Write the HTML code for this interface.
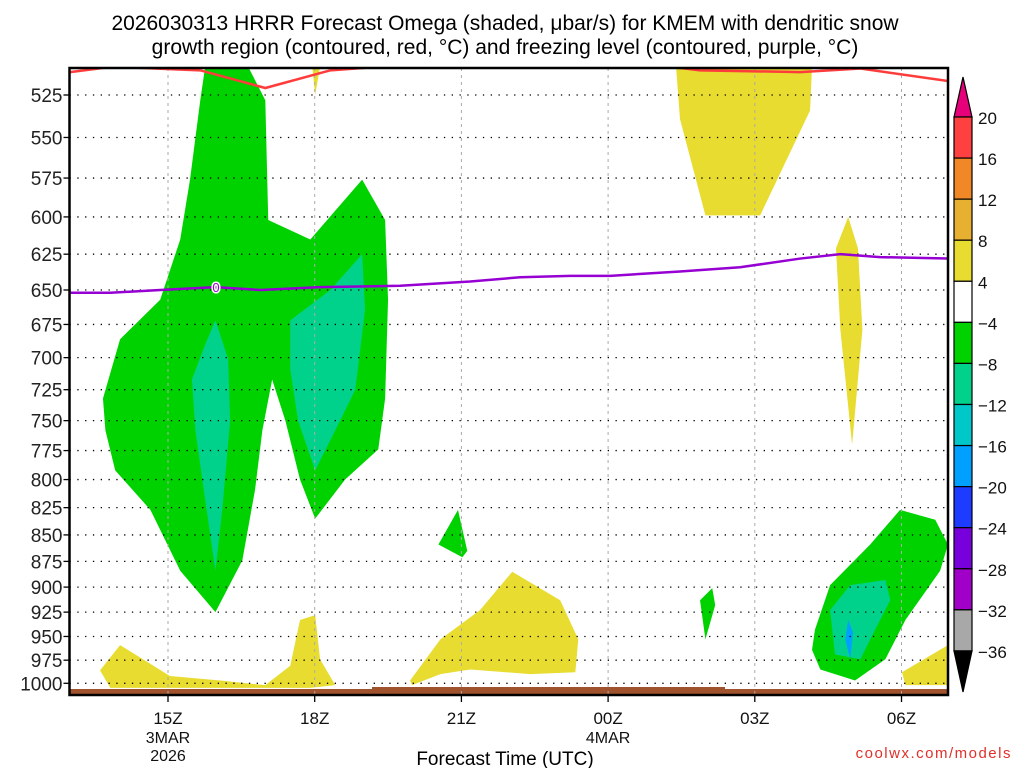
<!DOCTYPE html>
<html><head><meta charset="utf-8"><style>
body{margin:0;background:#fff;width:1024px;height:768px;overflow:hidden}
svg{display:block;font-family:"Liberation Sans",sans-serif}
</style></head><body>
<svg id="chart" width="1024" height="768" viewBox="0 0 1024 768">
<text x="505" y="30" font-size="21" text-anchor="middle">2026030313 HRRR Forecast Omega (shaded, μbar/s) for KMEM with dendritic snow</text>
<text x="505" y="54" font-size="21" text-anchor="middle">growth region (contoured, red, °C) and freezing level (contoured, purple, °C)</text>
<g id="plot"></g>
<g id="cbar"></g>
<text x="505" y="765" font-size="19" text-anchor="middle">Forecast Time (UTC)</text>
<text x="1012" y="758" font-size="15" fill="#e0302a" text-anchor="end" letter-spacing="1.5">coolwx.com/models</text>
</svg>
<script>
const NS="http://www.w3.org/2000/svg";
const pressureTicks=[525,550,575,600,625,650,675,700,725,750,775,800,825,850,875,900,925,950,975,1000];
const timeTicks=[2,5,8,11,14,17];
const timeLabels=["15Z","18Z","21Z","00Z","03Z","06Z"];
const cbarLevels=[20,16,12,8,4,-4,-8,-12,-16,-20,-24,-28,-32,-36];
const cbarColors=["#ff4040","#f08828","#e8b030","#e8dc30","#ffffff","#00d200","#00d28c","#00c8c8","#00a0ff","#1e3cff","#7800dc","#a000c8","#a8a8a8"];
const yellowAreas=[
 [[12.39,509],[15.17,509],[15.13,534],[14.11,599],[12.99,599],[12.47,539]],
 [[15.66,621],[15.91,600],[16.11,621],[16.2,679],[15.99,770],[15.75,679]],
 [[0.61,986],[1.02,959],[2.04,992],[3.07,997],[3.99,1002],[4.5,981],[4.7,933],[5.01,928],[5.11,974],[5.42,1002],[4.91,1005],[0.82,1005]],
 [[4.95,509],[5.11,509],[5.01,525]],
 [[6.95,997],[7.57,953],[8.38,923],[9.04,885],[10.02,913],[10.39,953],[10.33,988],[9.41,990],[8.18,985],[7.57,990],[6.99,1002]],
 [[17.01,988],[17.95,959],[17.95,1002],[17.08,1002]]
];
const greenAreas=[
 [[2.76,509],[3.64,509],[3.99,528],[4.05,602],[4.91,615],[5.97,576],[6.44,602],[6.5,657],[6.44,732],[6.3,774],[5.62,800],[5.01,835],[4.7,800],[4.4,750],[4.13,717],[3.93,758],[3.78,809],[3.52,874],[2.97,925],[2.25,884],[1.64,827],[0.92,792],[0.72,758],[0.67,732],[1.02,686],[1.84,657],[2.25,615],[2.45,576],[2.66,528]],
 [[7.53,859],[7.93,827],[8.12,865],[8.02,871]],
 [[12.88,913],[13.13,901],[13.19,918],[12.99,953]],
 [[15.23,943],[15.54,898],[16.36,859],[16.97,827],[17.69,836],[17.95,859],[17.79,884],[17.08,933],[16.67,974],[16.05,997],[15.34,985],[15.17,964]]
];
const tealAreas=[
 [[2.76,690],[2.97,672],[3.23,701],[3.27,750],[3.11,827],[2.97,884],[2.76,818],[2.56,758],[2.49,717]],
 [[4.5,672],[5.32,650],[5.97,625],[6.03,664],[5.83,725],[5.52,750],[5.01,792],[4.66,750],[4.5,709]],
 [[15.54,923],[15.95,898],[16.67,893],[16.77,913],[16.36,953],[16.16,974],[15.64,969]]
];
const blueAreas=[[[15.91,933],[16.01,946],[15.95,974],[15.85,953]]];
const dgzRed=[
 [[0,512],[0.86,509],[2.66,511],[3.99,521],[5.32,511],[6.34,509]],
 [[12.27,509],[12.88,511],[14.93,512],[16.16,510],[17.95,517]]
];
const freezeHours=[0,0.82,1.84,2.97,3.89,5.11,6.75,8.18,9.2,10.22,11.04,12.47,13.7,14.93,15.75,16.56,17.95];
const freezeP=[652,652,650,648,650,648,647,644,641,640,640,637,634,628,625,627,628];

const X0=69.5,X1=948,Y0=68,Y1=695;
const xs=h=>70.2+h*48.9;
const ys=p=>95+913*Math.log(p/525);
const plot=document.getElementById('plot');
function mk(tag,attrs,parent){const e=document.createElementNS(NS,tag);for(const k in attrs)e.setAttribute(k,attrs[k]);(parent||plot).appendChild(e);return e;}
const defs=mk('defs',{});
const cp=mk('clipPath',{id:'clip'},defs);
mk('rect',{x:X0,y:Y0,width:X1-X0,height:Y1-Y0},cp);
const g=mk('g',{'clip-path':'url(#clip)'});
function areas(list,color,name){list.forEach(poly=>{
 const e=mk('polygon',{points:poly.map(q=>xs(q[0])+','+ys(q[1])).join(' '),fill:color},g);
 
 
});}
areas(yellowAreas,'#e8dc30','omega-4-to-8-area');
areas(greenAreas,'#00d200','omega-minus4-to-minus8-area');
areas(tealAreas,'#00d28c','omega-minus8-to-minus12-area');
areas(blueAreas,'#00a0ff','omega-minus12-to-minus20-area');
const gr1=mk('rect',{x:X0,y:689,width:X1-X0,height:6,fill:'#a0522d'},g);


mk('rect',{x:372,y:687,width:353,height:3,fill:'#a0522d'},g);
timeTicks.forEach(t=>{mk('line',{x1:xs(t),x2:xs(t),y1:Y0,y2:Y1,stroke:'#aaa','stroke-width':1,'stroke-dasharray':'3,4'},g);});
pressureTicks.forEach(p=>{mk('line',{x1:X0,x2:X1,y1:ys(p),y2:ys(p),stroke:'#000','stroke-width':1.3,'stroke-dasharray':'1.3,6.5'},g);});
dgzRed.forEach(l=>{const e=mk('polyline',{points:l.map(q=>xs(q[0])+','+ys(q[1])).join(' '),fill:'none',stroke:'#ff3c3c','stroke-width':2.5},g);
 
 });
const fl=mk('polyline',{points:freezeHours.map((h,i)=>xs(h)+','+ys(freezeP[i])).join(' '),fill:'none',stroke:'#9600d2','stroke-width':2.5},g);


const fz=mk('text',{x:216,y:ys(648)+5,'font-size':13,fill:'#9600d2','text-anchor':'middle',stroke:'#fff','stroke-width':3,'paint-order':'stroke'},g);fz.textContent='0';


mk('rect',{x:X0,y:Y0,width:X1-X0,height:Y1-Y0,fill:'none',stroke:'#000','stroke-width':2.5});
pressureTicks.forEach(p=>{
 mk('line',{x1:X0-6,x2:X0,y1:ys(p),y2:ys(p),stroke:'#000','stroke-width':1.3});
 const t=mk('text',{x:X0-7,y:ys(p)+7,'font-size':19,'text-anchor':'end',fill:'#222'});t.textContent=p;
 
 
});
timeTicks.forEach((h,i)=>{
 mk('line',{x1:xs(h),x2:xs(h),y1:Y1,y2:Y1+7,stroke:'#000','stroke-width':1.3});
 const t=mk('text',{x:xs(h),y:724,'font-size':17,'text-anchor':'middle',fill:'#111'});t.textContent=timeLabels[i];
 
 
});
[['3MAR',xs(2),743],['2026',xs(2),761],['4MAR',xs(11),743]].forEach(a=>{const t=mk('text',{x:a[1],y:a[2],'font-size':16,'text-anchor':'middle',fill:'#111'});t.textContent=a[0];
 
 });
const cb=document.getElementById('cbar');
const bx=954,bw=18;
mk('polygon',{points:`${bx},117 ${bx+bw},117 ${bx+bw/2},77`,fill:'#e6007a',stroke:'#000','stroke-width':1.2},cb);
cbarColors.forEach((c,i)=>{
 const ya=117+i*41.07;
 const r=mk('rect',{x:bx,y:ya,width:bw,height:41.07,fill:c,stroke:'#000','stroke-width':1.2},cb);
 
 
});
mk('polygon',{points:`${bx},651 ${bx+bw},651 ${bx+bw/2},692`,fill:'#000',stroke:'#000','stroke-width':1.2},cb);
cbarLevels.forEach((v,i)=>{
 const t=mk('text',{x:978,y:117+i*41.07+7,'font-size':17,fill:'#111'},cb);
 t.textContent=v<0?'\u2212'+(-v):v;
 
 
});
</script>
</body></html>
